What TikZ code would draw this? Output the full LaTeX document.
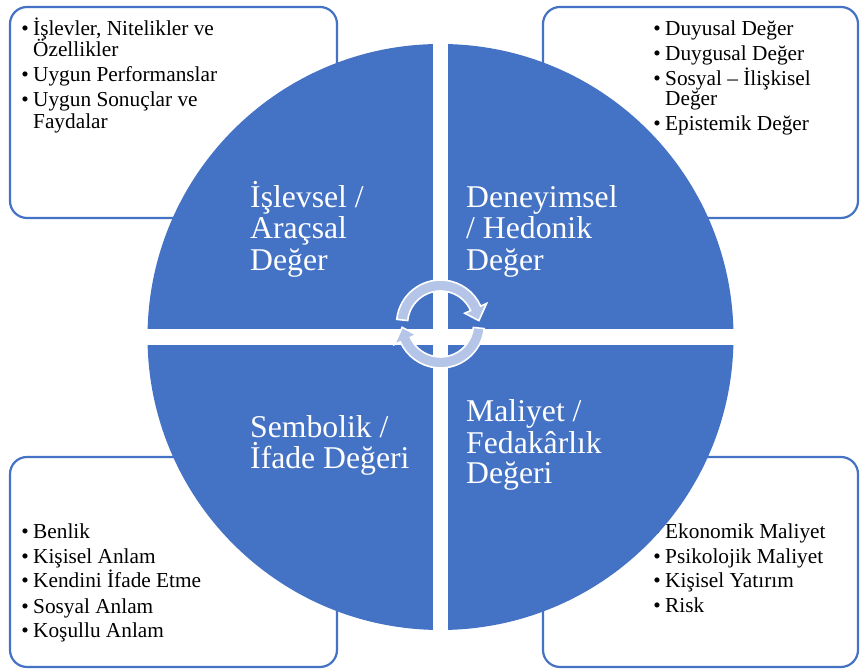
\documentclass[tikz,border=0pt]{standalone}
\usepackage{fontspec}
\setmainfont{Liberation Serif}
\usetikzlibrary{calc}
\definecolor{accblue}{HTML}{4472C4}
\definecolor{arrfill}{RGB}{180,197,231}
\begin{document}
\begin{tikzpicture}[x=1pt,y=1pt,
  cornerbox/.style={draw=accblue,line width=2.2pt,fill=white,rounded corners=17pt},
  bul/.style={anchor=base,inner sep=0pt,font=\fontsize{21.3}{21.3}\selectfont},
  itm/.style={anchor=base west,inner sep=0pt,font=\fontsize{21.3}{21.3}\selectfont},
  qlabel/.style={anchor=base west,inner sep=0pt,text=white,font=\fontsize{31.7}{31.7}\selectfont},
  cycarrow/.style={fill=arrfill,draw=white,line width=1.6pt,line join=miter}]
\useasboundingbox (0,0) rectangle (860,671);
% corner boxes
\draw[cornerbox] (10,453) rectangle (337,664);
\draw[cornerbox] (543,453) rectangle (858,664);
\draw[cornerbox] (10,4) rectangle (337,214);
\draw[cornerbox] (543,4) rectangle (858,214);
% top-left list
\node[bul] (tlb1) at (25,635.5) {•};
\node[itm] (tl1) at (33,635.5) {İşlevler, Nitelikler ve};
\node[itm] (tl1b) at (33,614.5) {Özellikler};
\node[bul] (tlb2) at (25,589.5) {•};
\node[itm] (tl2) at (33,589.5) {Uygun Performanslar};
\node[bul] (tlb3) at (25,564.5) {•};
\node[itm] (tl3) at (33,564.5) {Uygun Sonuçlar ve};
\node[itm] (tl3b) at (33,542.5) {Faydalar};
% top-right list
\node[bul] (trb1) at (657,635) {•};
\node[itm] (tr1) at (665,635) {Duyusal Değer};
\node[bul] (trb2) at (657,610) {•};
\node[itm] (tr2) at (665,610) {Duygusal Değer};
\node[bul] (trb3) at (657,585) {•};
\node[itm] (tr3) at (665,585) {Sosyal – İlişkisel};
\node[itm] (tr3b) at (665,565) {Değer};
\node[bul] (trb4) at (657,540) {•};
\node[itm] (tr4) at (665,540) {Epistemik Değer};
% bottom-left list
\node[bul] (blb1) at (25,132) {•};
\node[itm] (bl1) at (33,132) {Benlik};
\node[bul] (blb2) at (25,107) {•};
\node[itm] (bl2) at (33,107) {Kişisel Anlam};
\node[bul] (blb3) at (25,83) {•};
\node[itm] (bl3) at (33,83) {Kendini İfade Etme};
\node[bul] (blb4) at (25,57) {•};
\node[itm] (bl4) at (33,57) {Sosyal Anlam};
\node[bul] (blb5) at (25,33) {•};
\node[itm] (bl5) at (33,33) {Koşullu Anlam};
% bottom-right list
\node[bul] (brb1) at (657,132) {•};
\node[itm] (br1) at (665,132) {Ekonomik Maliyet};
\node[bul] (brb2) at (657,107) {•};
\node[itm] (br2) at (665,107) {Psikolojik Maliyet};
\node[bul] (brb3) at (657,83) {•};
\node[itm] (br3) at (665,83) {Kişisel Yatırım};
\node[bul] (brb4) at (657,58) {•};
\node[itm] (br4) at (665,58) {Risk};
% big circle with cross gap
\coordinate (cc) at (440.5,334);
\fill[accblue] (cc) circle[radius=293];
\fill[white] (432.75,35) rectangle (448.25,633);
\fill[white] (140,326) rectangle (741,342);
% quadrant labels
\node[qlabel] (q1a) at (250,463) {İşlevsel /};
\node[qlabel] (q1b) at (250,432) {Araçsal};
\node[qlabel] (q1c) at (250,400) {Değer};
\node[qlabel] (q2a) at (466,463) {Deneyimsel};
\node[qlabel] (q2b) at (466,432) {/ Hedonik};
\node[qlabel] (q2c) at (466,400) {Değer};
\node[qlabel] (q3a) at (250,233) {Sembolik /};
\node[qlabel] (q3b) at (250,202) {İfade Değeri};
\node[qlabel] (q4a) at (466,249) {Maliyet /};
\node[qlabel] (q4b) at (466,217) {Fedakârlık};
\node[qlabel] (q4c) at (466,187) {Değeri};
% cycle arrows
\coordinate (ac) at (440.5,347);
\draw[cycarrow] ($(ac)+(174:44)$) arc[start angle=174,end angle=24,radius=44]
  -- ($(ac)+(24:50.5)$) -- ($(ac)+(5:38.5)$) -- ($(ac)+(24:26.5)$)
  -- ($(ac)+(24:33)$) arc[start angle=24,end angle=174,radius=33] -- cycle;
\begin{scope}[rotate around={180:(cc)}]
\draw[cycarrow] ($(ac)+(174:44)$) arc[start angle=174,end angle=24,radius=44]
  -- ($(ac)+(24:50.5)$) -- ($(ac)+(5:38.5)$) -- ($(ac)+(24:26.5)$)
  -- ($(ac)+(24:33)$) arc[start angle=24,end angle=174,radius=33] -- cycle;
\end{scope}
\end{tikzpicture}
\end{document}
